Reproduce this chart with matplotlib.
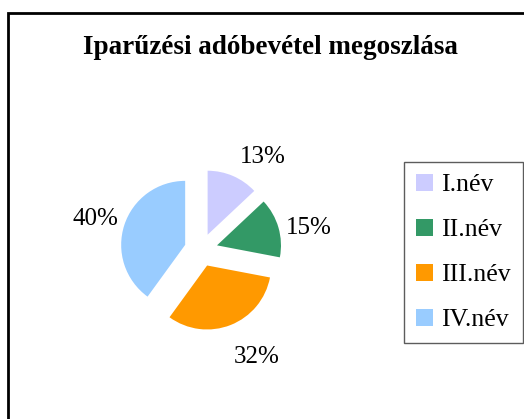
import matplotlib.pyplot as plt
from matplotlib.patches import Rectangle

# Adatok
categories = ['I.név', 'II.név', 'III.név', 'IV.név']
shares = [13, 15, 32, 40]
colors = ['#CCCCFF', '#339966', '#FF9900', '#99CCFF']
title = 'Iparűzési adóbevétel megoszlása'

plt.rcParams['font.family'] = ['Liberation Serif', 'DejaVu Serif']

W, H = 524, 419
fig = plt.figure(figsize=(W / 100, H / 100), dpi=100)

# Keret a diagram körül
fig.patches.append(Rectangle((8 / W, -0.1), 1.2, (H - 13) / H + 0.1,
                             transform=fig.transFigure, fill=False,
                             edgecolor='black', linewidth=2))

fig.text(270 / W, 1 - 47 / H, title, ha='center', va='center',
         fontsize=19.5, fontweight='bold')

# Kördiagram
ax = fig.add_axes([73 / W, 41 / H, 256 / W, 256 / H])
wedges, _, autotexts = ax.pie(
    shares,
    colors=colors,
    startangle=90,
    counterclock=False,
    explode=[0.26] * len(shares),
    autopct='%1.0f%%',
    pctdistance=1.5,
    wedgeprops={'linewidth': 0},
    textprops={'fontsize': 18},
)

# Címkék finomhangolása (Excel "legjobb illeszkedés" elhelyezés)
nudges = [(0.27, -0.16), (0.0, -0.14), (0.23, -0.03), (0.02, -0.06)]
for t, (dx, dy) in zip(autotexts, nudges):
    x, y = t.get_position()
    t.set_position((x + dx, y + dy))

ax.set_xlim(-2, 2)
ax.set_ylim(-2, 2)
ax.set_aspect('equal')
ax.axis('off')

leg = fig.legend(
    wedges, categories,
    loc='upper left',
    bbox_to_anchor=(404 / W, 1 - 162 / H),
    frameon=True,
    fancybox=False,
    edgecolor='#333333',
    fontsize=18.5,
    handlelength=0.66,
    handleheight=0.66,
    handletextpad=0.35,
    labelspacing=0.87,
    borderpad=0.45,
    borderaxespad=0,
)
leg.get_frame().set_linewidth(1)

fig.savefig('out.png', dpi=100)
